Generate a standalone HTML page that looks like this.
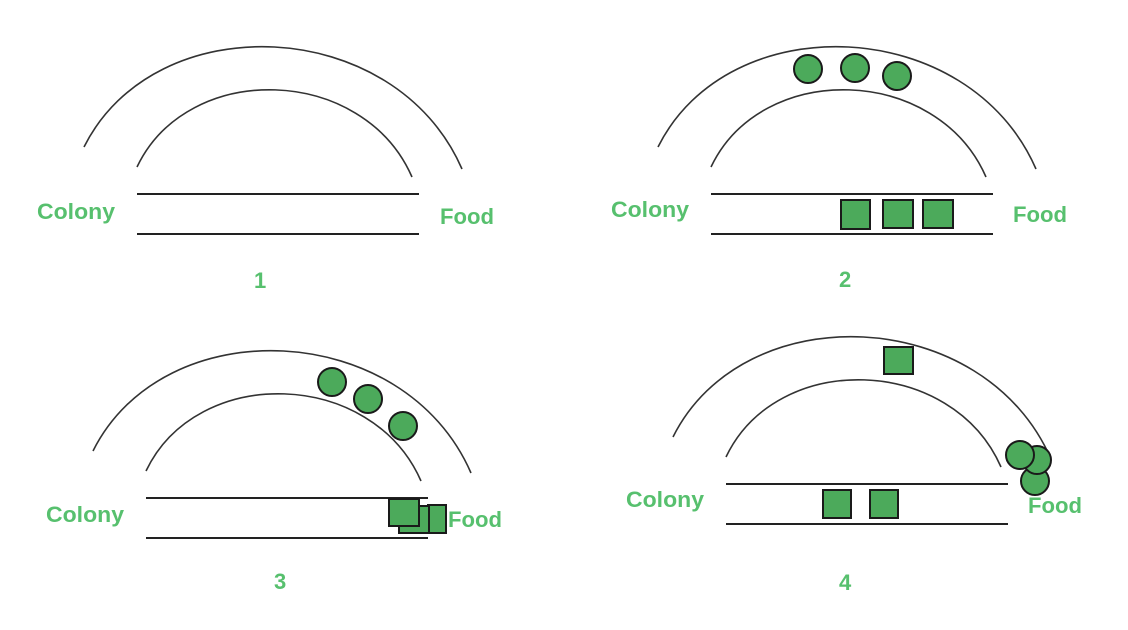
<!DOCTYPE html>
<html><head><meta charset="utf-8"><style>
html,body{margin:0;padding:0;background:#fff;}
svg{display:block;}
.arc{fill:none;stroke:#333;stroke-width:1.6;}
.ln{stroke:#222;stroke-width:2;}
.lbl{font-family:"Liberation Sans",sans-serif;font-weight:bold;font-size:22px;fill:#57c06e;}
.ant{fill:#4caa5b;stroke:#1a1a1a;stroke-width:2;}
</style></head><body>
<svg width="1128" height="630" viewBox="0 0 1128 630">
<defs>
<g id="base">
<path class="arc" d="M84,147 C155,5 395,15 462,169"/>
<path class="arc" d="M137,167 C188,60 363,65 412,177"/>
<line class="ln" x1="137" y1="194" x2="419" y2="194"/>
<line class="ln" x1="137" y1="234" x2="419" y2="234"/>
</g>
</defs>
<g>
<use href="#base"/>
<text class="lbl" x="37" y="219" textLength="78" lengthAdjust="spacingAndGlyphs">Colony</text>
<text class="lbl" x="440" y="224" textLength="54" lengthAdjust="spacingAndGlyphs">Food</text>
<text class="lbl" x="254" y="288">1</text>
</g>
<g>
<use href="#base" transform="translate(574,0)"/>
<text class="lbl" x="611" y="217" textLength="78" lengthAdjust="spacingAndGlyphs">Colony</text>
<text class="lbl" x="1013" y="222" textLength="54" lengthAdjust="spacingAndGlyphs">Food</text>
<text class="lbl" x="839" y="287">2</text>
<circle class="ant" cx="808" cy="69" r="14"/>
<circle class="ant" cx="855" cy="68" r="14"/>
<circle class="ant" cx="897" cy="76" r="14"/>
<rect class="ant" x="841" y="200" width="29" height="29"/>
<rect class="ant" x="883" y="200" width="30" height="28"/>
<rect class="ant" x="923" y="200" width="30" height="28"/>
</g>
<g>
<use href="#base" transform="translate(9,304)"/>
<text class="lbl" x="46" y="522" textLength="78" lengthAdjust="spacingAndGlyphs">Colony</text>
<text class="lbl" x="448" y="527" textLength="54" lengthAdjust="spacingAndGlyphs">Food</text>
<text class="lbl" x="274" y="589">3</text>
<circle class="ant" cx="332" cy="382" r="14"/>
<circle class="ant" cx="368" cy="399" r="14"/>
<circle class="ant" cx="403" cy="426" r="14"/>
<rect class="ant" x="428" y="505" width="18" height="28"/>
<rect class="ant" x="399" y="506" width="30" height="27"/>
<rect class="ant" x="389" y="499" width="30" height="27"/>
</g>
<g>
<use href="#base" transform="translate(589,290)"/>
<text class="lbl" x="626" y="507" textLength="78" lengthAdjust="spacingAndGlyphs">Colony</text>
<text class="lbl" x="1028" y="513" textLength="54" lengthAdjust="spacingAndGlyphs">Food</text>
<text class="lbl" x="839" y="590">4</text>
<rect class="ant" x="884" y="347" width="29" height="27"/>
<rect class="ant" x="823" y="490" width="28" height="28"/>
<rect class="ant" x="870" y="490" width="28" height="28"/>
<circle class="ant" cx="1035" cy="481" r="14"/>
<circle class="ant" cx="1037" cy="460" r="14"/>
<circle class="ant" cx="1020" cy="455" r="14"/>
</g>
</svg>
</body></html>
